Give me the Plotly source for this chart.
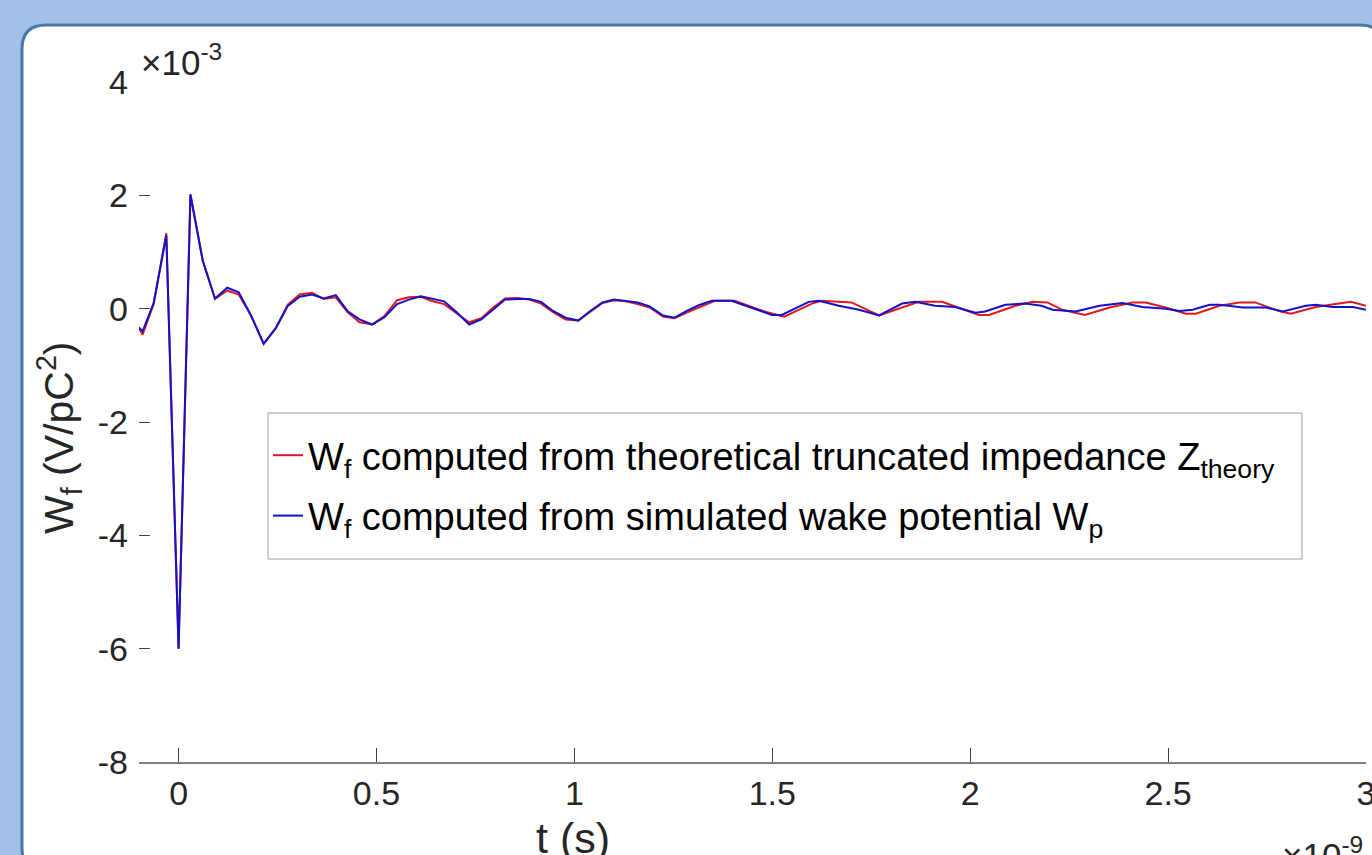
import plotly.graph_objects as go

# ---- data (t in ns, W in 1e-3 V/pC^2) ----
t_blue = [-0.10, -0.091, -0.063, -0.031, 0.0, 0.030, 0.061, 0.092, 0.123, 0.152, 0.183, 0.215,
          0.246, 0.276, 0.306, 0.337, 0.367, 0.397, 0.428, 0.457, 0.489, 0.52, 0.552, 0.582,
          0.612, 0.642, 0.671, 0.702, 0.734, 0.765, 0.795, 0.825, 0.857, 0.886, 0.916, 0.946,
          0.978, 1.01, 1.04, 1.071, 1.10, 1.13, 1.16, 1.19, 1.224, 1.253, 1.284, 1.314, 1.347,
          1.397, 1.448, 1.499, 1.524, 1.592, 1.618, 1.668, 1.719, 1.77, 1.828, 1.861, 1.911,
          1.962, 2.013, 2.038, 2.089, 2.139, 2.18, 2.208, 2.266, 2.327, 2.385, 2.435, 2.494,
          2.529, 2.562, 2.605, 2.63, 2.689, 2.747, 2.79, 2.848, 2.873, 2.916, 2.967, 3.0]
w_blue = [-0.33, -0.40, 0.10, 1.29, -6.0, 2.02, 0.85, 0.18, 0.37, 0.29, -0.12, -0.62,
          -0.34, 0.05, 0.21, 0.25, 0.18, 0.24, -0.05, -0.19, -0.28, -0.15, 0.08, 0.16,
          0.22, 0.18, 0.13, -0.06, -0.28, -0.19, -0.01, 0.16, 0.17, 0.17, 0.12, -0.04,
          -0.16, -0.21, -0.04, 0.11, 0.16, 0.14, 0.11, 0.04, -0.12, -0.16, -0.04, 0.06, 0.14,
          0.14, 0.02, -0.11, -0.11, 0.12, 0.14, 0.05, -0.02, -0.12, 0.09, 0.12, 0.05,
          0.03, -0.07, -0.05, 0.07, 0.09, 0.05, -0.02, -0.05, 0.05, 0.10, 0.03, 0.0,
          -0.04, -0.02, 0.07, 0.07, 0.02, 0.02, -0.05, 0.05, 0.07, 0.03, 0.03, -0.02]

t_red = [-0.10, -0.091, -0.063, -0.031, 0.0, 0.030, 0.061, 0.092, 0.123, 0.152, 0.183, 0.215,
         0.246, 0.276, 0.306, 0.337, 0.367, 0.397, 0.428, 0.457, 0.489, 0.52, 0.552, 0.582,
         0.612, 0.642, 0.671, 0.702, 0.734, 0.765, 0.795, 0.825, 0.857, 0.886, 0.916, 0.946,
         0.978, 1.01, 1.04, 1.071, 1.10, 1.13, 1.16, 1.19, 1.224, 1.253, 1.284, 1.322, 1.355,
         1.405, 1.48, 1.53, 1.6, 1.625, 1.70, 1.77, 1.843, 1.87, 1.929, 1.997, 2.022, 2.048,
         2.114, 2.157, 2.195, 2.233, 2.29, 2.352, 2.41, 2.443, 2.494, 2.545, 2.57, 2.63,
         2.68, 2.72, 2.78, 2.81, 2.873, 2.91, 2.962, 3.0]
w_red = [-0.35, -0.46, 0.08, 1.33, -6.0, 2.0, 0.85, 0.17, 0.32, 0.25, -0.12, -0.62,
         -0.34, 0.07, 0.25, 0.28, 0.17, 0.20, -0.07, -0.24, -0.28, -0.13, 0.15, 0.20,
         0.21, 0.13, 0.08, -0.08, -0.24, -0.17, 0.02, 0.18, 0.19, 0.16, 0.09, -0.06,
         -0.19, -0.21, -0.05, 0.10, 0.15, 0.13, 0.08, 0.02, -0.14, -0.17, -0.07, 0.04, 0.14,
         0.14, -0.05, -0.14, 0.09, 0.14, 0.11, -0.12, 0.05, 0.12, 0.12, -0.05, -0.11, -0.11,
         0.05, 0.12, 0.11, -0.02, -0.11, 0.02, 0.11, 0.11, 0.02, -0.09, -0.09, 0.05,
         0.11, 0.11, -0.04, -0.09, 0.03, 0.07, 0.12, 0.05]

x_ticks = [0, 0.5, 1, 1.5, 2, 2.5, 3]
x_tick_text = ["0", "0.5", "1", "1.5", "2", "2.5", "3"]
y_ticks = [-8, -6, -4, -2, 0, 2, 4]
y_tick_text = ["-8", "-6", "-4", "-2", "0", "2", "4"]

label_red = "W<sub>f</sub> computed from theoretical truncated impedance Z<sub>theory</sub>"
label_blue = "W<sub>f</sub> computed from simulated wake potential W<sub>p</sub>"

# ---- layout geometry (pixels) ----
W, H = 1372, 855
L, R, T, B = 139, 1366, 82, 762


def px(x):
    return (x - L) / (R - L)


def py(y):
    return (B - y) / (B - T)


FONT = "Liberation Sans, Arial, sans-serif"
TXT = "#262626"

fig = go.Figure()
fig.add_trace(go.Scatter(x=t_red, y=w_red, mode="lines", name=label_red, legendgroup="r",
                         line=dict(color="#e3171c", width=2)))
fig.add_trace(go.Scatter(x=t_blue, y=w_blue, mode="lines", name=label_blue, legendgroup="b",
                         line=dict(color="#1212c8", width=2)))

# slide panel (rounded rectangle)
x0, y0, x1, y1, r = 22, 25, 1384, 872, 24
path = (f"M {px(x0)},{py(y0 + r)} Q {px(x0)},{py(y0)} {px(x0 + r)},{py(y0)} "
        f"L {px(x1 - r)},{py(y0)} Q {px(x1)},{py(y0)} {px(x1)},{py(y0 + r)} "
        f"L {px(x1)},{py(y1 - r)} Q {px(x1)},{py(y1)} {px(x1 - r)},{py(y1)} "
        f"L {px(x0 + r)},{py(y1)} Q {px(x0)},{py(y1)} {px(x0)},{py(y1 - r)} Z")
fig.add_shape(type="path", path=path, xref="paper", yref="paper", layer="below",
              fillcolor="white", line=dict(color="#4a76a6", width=3))

# legend box
fig.add_shape(type="rect", xref="paper", yref="paper", layer="above",
              x0=px(268), x1=px(1302), y0=py(559), y1=py(413),
              fillcolor="white", line=dict(color="#a0a0a0", width=1))

fig.update_layout(
    width=W, height=H,
    margin=dict(l=L, r=W - R, t=T, b=H - B, autoexpand=False),
    paper_bgcolor="#a3c1e6",
    plot_bgcolor="rgba(0,0,0,0)",
    font=dict(family=FONT, color=TXT, size=34),
    showlegend=True,
    legend=dict(x=px(268), y=py(424), xanchor="left", yanchor="top",
                bgcolor="rgba(0,0,0,0)", borderwidth=0,
                font=dict(family=FONT, size=38, color="black"),
                itemwidth=30, tracegroupgap=8),
    xaxis=dict(range=[-0.1, 3.0], tickmode="array", tickvals=x_ticks, ticktext=x_tick_text,
               ticks="inside", ticklen=14, tickcolor="#404040", tickwidth=1,
               showline=True, linecolor="#808080", linewidth=1.5, showgrid=False,
               zeroline=False, ticklabelstandoff=0, ticklabeloverflow="allow",
               automargin=False, tickfont=dict(size=34, color=TXT)),
    yaxis=dict(range=[-8, 4], tickmode="array", tickvals=y_ticks, ticktext=y_tick_text,
               ticks="inside", ticklen=11, tickcolor="#404040", tickwidth=1,
               showline=False, showgrid=False, zeroline=False, ticklabelstandoff=10,
               ticklabeloverflow="allow", automargin=False,
               tickfont=dict(size=34, color=TXT)),
)

fig.add_annotation(text="×10<sup>-3</sup>", xref="paper", yref="paper",
                   x=px(139), y=py(60), xanchor="left", yanchor="middle", showarrow=False,
                   font=dict(family=FONT, size=35, color=TXT))
fig.add_annotation(text="×10<sup>-9</sup>", xref="paper", yref="paper",
                   x=px(1280), y=py(853), xanchor="left", yanchor="middle", showarrow=False,
                   font=dict(family=FONT, size=35, color=TXT))
fig.add_annotation(text="t (s)", xref="paper", yref="paper",
                   x=px(573), y=py(838), xanchor="center", yanchor="middle", showarrow=False,
                   font=dict(family=FONT, size=43, color=TXT))
fig.add_annotation(text="W<sub>f</sub> (V/pC<sup>2</sup>)", xref="paper", yref="paper",
                   x=px(59), y=py(438), xanchor="center", yanchor="middle", showarrow=False,
                   textangle=-90,
                   font=dict(family=FONT, size=41, color=TXT))

fig.write_html("out.html")
